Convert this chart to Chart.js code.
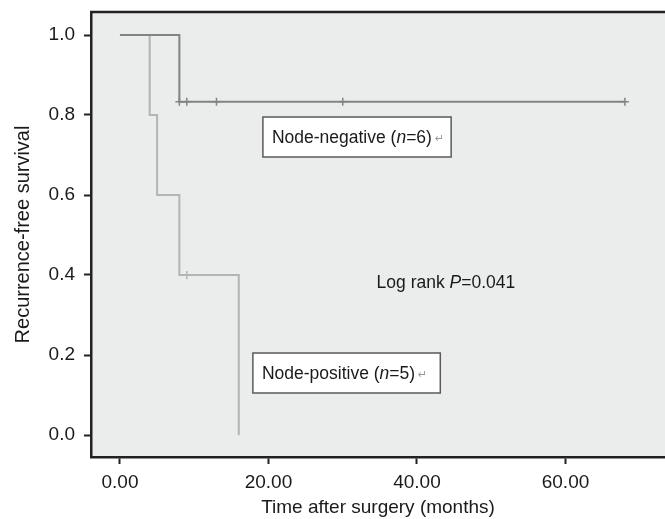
<!DOCTYPE html>
<html>
<head>
<meta charset="utf-8">
<script src="https://cdn.jsdelivr.net/npm/chart.js@4.4.1/dist/chart.umd.min.js"></script>
<style>
html,body{margin:0;padding:0;background:#fff;}
#wrap{width:665px;height:519px;position:relative;}
</style>
</head>
<body>
<div id="wrap"><canvas id="c" width="665" height="519"></canvas></div>
<script>
// Kaplan-Meier step data (time in months, survival)
const negTimes = [0, 8, 68];
const negSurv  = [1.0, 0.833, 0.833];
const negCensorTimes = [8, 9, 13, 30, 68];
const negCensorSurv  = [0.833, 0.833, 0.833, 0.833, 0.833];

const posTimes = [0, 4, 5, 8, 16];
const posSurv  = [1.0, 0.8, 0.6, 0.4, 0.0];
const posCensorTimes = [9];
const posCensorSurv  = [0.4];

const xTickValues = [0, 20, 40, 60];
const xTickLabels = ['0.00', '20.00', '40.00', '60.00'];
const yTickValues = [0.0, 0.2, 0.4, 0.6, 0.8, 1.0];
const yTickLabels = ['0.0', '0.2', '0.4', '0.6', '0.8', '1.0'];

const negColor = '#828383';
const posColor = '#b3b4b4';
const FONT = '"Liberation Sans", Arial, Helvetica, sans-serif';

const toPts = (xs, ys) => xs.map((x, i) => ({x: x, y: ys[i]}));

// annotations in data coordinates
const notes = [
  {x: 19.25, y: 0.745, box: true, padR: 7, segs: [['Node-negative (', false], ['n', true], ['=6)', false]], arrow: true},
  {x: 17.9,  y: 0.155, box: true, padR: 13, segs: [['Node-positive (', false], ['n', true], ['=5)', false]], arrow: true},
  {x: 43.9,  y: 0.3825, box: false, padR: 0, center: true, segs: [['Log rank ', false], ['P', true], ['=0.041', false]], arrow: false}
];

const bgPlugin = {
  id: 'bg',
  beforeDraw(chart) {
    const {ctx, chartArea: a} = chart;
    ctx.save();
    ctx.fillStyle = '#ebecec';
    ctx.fillRect(a.left, a.top, a.right - a.left, a.bottom - a.top);
    ctx.strokeStyle = '#222';
    ctx.lineWidth = 2.5;
    ctx.beginPath();
    ctx.moveTo(a.left - 1, a.top);
    ctx.lineTo(a.right, a.top);
    ctx.stroke();
    ctx.restore();
  }
};

const notePlugin = {
  id: 'notes',
  afterDatasetsDraw(chart) {
    const ctx = chart.ctx;
    const xs = chart.scales.x, ys = chart.scales.y;
    const size = 17.5;
    ctx.save();
    notes.forEach(n => {
      let w = 0;
      n.segs.forEach(s => {
        ctx.font = (s[1] ? 'italic ' : '') + size + 'px ' + FONT;
        w += ctx.measureText(s[0]).width;
      });
      let arrowW = 0;
      if (n.arrow) {
        ctx.font = '11px "DejaVu Sans", sans-serif';
        arrowW = ctx.measureText('\u21b5').width + 3;
      }
      const padL = 9, h = 40;
      const totalW = padL + w + arrowW + n.padR;
      let left = xs.getPixelForValue(n.x);
      const cy = ys.getPixelForValue(n.y);
      if (n.center) left = left - w / 2 - padL;
      if (n.box) {
        ctx.fillStyle = '#ffffff';
        ctx.fillRect(left, cy - h / 2, totalW, h);
        ctx.strokeStyle = '#5a5a5a';
        ctx.lineWidth = 1.5;
        ctx.strokeRect(left, cy - h / 2, totalW, h);
      }
      let tx = left + padL;
      ctx.textBaseline = 'middle';
      ctx.textAlign = 'left';
      ctx.fillStyle = '#1a1a1a';
      n.segs.forEach(s => {
        ctx.font = (s[1] ? 'italic ' : '') + size + 'px ' + FONT;
        ctx.fillText(s[0], tx, cy + 1);
        tx += ctx.measureText(s[0]).width;
      });
      if (n.arrow) {
        ctx.font = '11px "DejaVu Sans", sans-serif';
        ctx.fillStyle = '#9a9a9a';
        ctx.fillText('\u21b5', tx + 3, cy + 2);
      }
    });
    ctx.restore();
  }
};

new Chart(document.getElementById('c'), {
  type: 'scatter',
  data: {
    datasets: [
      {
        label: 'Node-negative',
        type: 'line',
        data: toPts(negTimes, negSurv),
        borderColor: negColor,
        borderWidth: 2,
        stepped: 'before',
        pointRadius: 0,
        fill: false
      },
      {
        label: 'Node-positive',
        type: 'line',
        data: toPts(posTimes, posSurv),
        borderColor: posColor,
        borderWidth: 2,
        stepped: 'before',
        pointRadius: 0,
        fill: false
      },
      {
        label: 'neg censored',
        data: toPts(negCensorTimes, negCensorSurv),
        pointStyle: 'cross',
        pointRadius: 4,
        borderColor: negColor,
        borderWidth: 1.5,
        backgroundColor: negColor
      },
      {
        label: 'pos censored',
        data: toPts(posCensorTimes, posCensorSurv),
        pointStyle: 'cross',
        pointRadius: 4,
        borderColor: posColor,
        borderWidth: 1.5,
        backgroundColor: posColor
      }
    ]
  },
  options: {
    responsive: false,
    animation: false,
    events: [],
    layout: {autoPadding: false, padding: {top: 12, right: 0, left: 0, bottom: 0}},
    plugins: {legend: {display: false}, tooltip: {enabled: false}},
    scales: {
      x: {
        type: 'linear',
        min: -3.9,
        max: 73.4,
        afterBuildTicks: s => { s.ticks = xTickValues.map(v => ({value: v})); },
        afterFit: s => { s.height = 62; s.paddingLeft = 0; s.paddingRight = 0; },
        ticks: {
          callback: (v) => xTickLabels[xTickValues.indexOf(v)],
          font: {family: FONT, size: 19},
          color: '#1a1a1a',
          padding: 7,
          maxRotation: 0,
          autoSkip: false
        },
        grid: {drawOnChartArea: false, drawTicks: true, tickLength: 7, tickWidth: 2, tickColor: '#222'},
        border: {display: true, color: '#222', width: 2.5},
        title: {display: true, text: 'Time after surgery (months)', font: {family: FONT, size: 19}, color: '#1a1a1a', padding: {top: 0, bottom: 0}}
      },
      y: {
        type: 'linear',
        min: -0.055,
        max: 1.0575,
        afterBuildTicks: s => { s.ticks = yTickValues.map(v => ({value: v})); },
        afterFit: s => { s.width = 91; s.paddingTop = 0; s.paddingBottom = 0; },
        ticks: {
          callback: (v) => yTickLabels[yTickValues.findIndex(t => Math.abs(t - v) < 1e-9)],
          font: {family: FONT, size: 19},
          color: '#1a1a1a',
          padding: 9,
          autoSkip: false
        },
        grid: {drawOnChartArea: false, drawTicks: true, tickLength: 7, tickWidth: 2, tickColor: '#222'},
        border: {display: true, color: '#222', width: 2.5},
        title: {display: true, text: 'Recurrence-free survival', font: {family: FONT, size: 20}, color: '#1a1a1a', padding: {top: 11, bottom: 0}}
      }
    }
  },
  plugins: [bgPlugin, notePlugin]
});
</script>
</body>
</html>
